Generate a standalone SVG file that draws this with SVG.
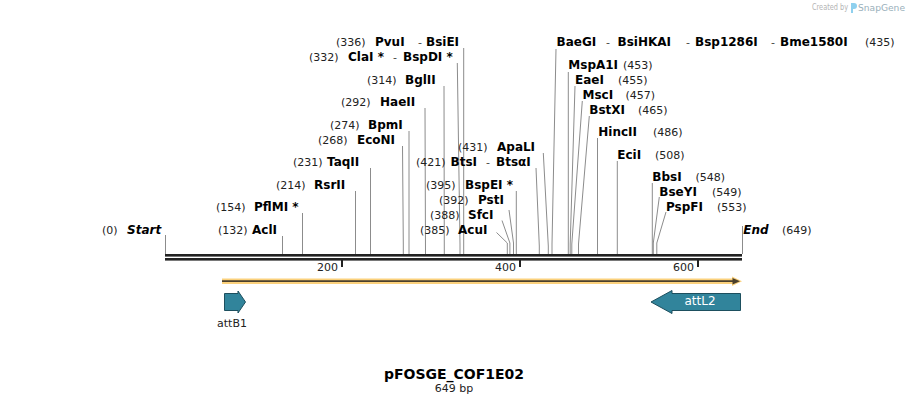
<svg xmlns="http://www.w3.org/2000/svg" width="909" height="404" viewBox="0 0 909 404">
<style>
text{font-family:"DejaVu Sans",Verdana,sans-serif;}
.n{font-size:11px;fill:#222;}
.e{font-size:12px;font-weight:bold;fill:#000;}
.i{font-size:12px;font-weight:bold;font-style:italic;fill:#000;}
.s{font-size:11px;fill:#444;}
.ld{fill:none;stroke:#8c8c8c;stroke-width:1;}
.tk{font-size:11px;fill:#222;}
.ft{fill:#31849b;stroke:#1d4f5e;stroke-width:1;}
</style>
<rect width="909" height="404" fill="#fff"/>
<g id="watermark">
<text x="812" y="10" textLength="36" lengthAdjust="spacingAndGlyphs" style="font-size:8px;fill:#b4b4b4">Created by</text>
<path d="M851,3 h3 a3,3 0 0 1 0,6 h-1 v4 h-2 z" fill="#8fd0ee"/>
<text x="858" y="11" textLength="47" lengthAdjust="spacingAndGlyphs" style="font-size:9.5px;fill:#9ab0bb">SnapGene</text>
</g>
<g id="connectors">
<polyline class="ld" points="165.5,235 165.5,254"/>
<polyline class="ld" points="282.5,236 282.5,254"/>
<polyline class="ld" points="302.5,213 302.5,254"/>
<polyline class="ld" points="355.5,191 355.5,254"/>
<polyline class="ld" points="370.5,168 370.5,254"/>
<polyline class="ld" points="402.5,146 403.3,244 403.3,254"/>
<polyline class="ld" points="409,131 409,254"/>
<polyline class="ld" points="425,108 425.5,254"/>
<polyline class="ld" points="444,86 444.3,254"/>
<polyline class="ld" points="457.3,63 460,244 460,254"/>
<polyline class="ld" points="463.7,48 463.7,254"/>
<polyline class="ld" points="496.5,232.5 507.3,243 507.3,254"/>
<polyline class="ld" points="502,220.5 509.9,243 509.9,254"/>
<polyline class="ld" points="509,210 513.5,243 513.5,254"/>
<polyline class="ld" points="516.3,191 516.3,254"/>
<polyline class="ld" points="536,168 539.3,246 539.3,254"/>
<polyline class="ld" points="543.3,153 548.3,246 548.3,254"/>
<polyline class="ld" points="556,49 552,244 552,254"/>
<polyline class="ld" points="568.3,72 568.3,254"/>
<polyline class="ld" points="575,86 570.2,244 570.2,254"/>
<polyline class="ld" points="582.3,101 571.8,244 571.8,254"/>
<polyline class="ld" points="589.3,116 578.5,244 578.5,254"/>
<polyline class="ld" points="597.5,138 597.5,254"/>
<polyline class="ld" points="617.3,161 617.3,254"/>
<polyline class="ld" points="652.3,183 652.3,254"/>
<polyline class="ld" points="659.3,197 653.3,243 653.3,254"/>
<polyline class="ld" points="666,212 656.8,243 656.8,254"/>
<polyline class="ld" points="742.5,226 742.5,254"/>
</g>
<g id="backbone">
<rect x="165" y="254" width="577" height="2.6" fill="#222"/>
<rect x="165" y="258" width="577" height="2.6" fill="#222"/>
<rect x="341" y="260" width="2" height="7" fill="#222"/>
<rect x="519" y="260" width="2" height="7" fill="#222"/>
<rect x="697" y="260" width="2" height="7" fill="#222"/>
<text class="tk" x="338" y="271" text-anchor="end">200</text>
<text class="tk" x="516" y="271" text-anchor="end">400</text>
<text class="tk" x="694" y="271" text-anchor="end">600</text>
</g>
<g id="orf">
<path d="M222,281.2 H735" stroke="#fbd17c" stroke-width="5.5" fill="none"/>
<path d="M742,281.2 L732,276.5 L732,286 Z" fill="#fbd17c"/>
<path d="M222,281.2 H734" stroke="#4a3f2c" stroke-width="1.8" fill="none"/>
<path d="M740,281.2 L732.5,278 L732.5,284.4 Z" fill="#4a3f2c"/>
</g>
<g id="attB1">
<path class="ft" d="M224.5,293.5 H238 V291 L245.5,302 L238,313 V310.5 H224.5 Z"/>
<text x="232" y="327" text-anchor="middle" style="font-size:11px;fill:#222">attB1</text>
</g>
<g id="attL2">
<path class="ft" d="M740.5,293.5 H672 V290.5 L651,302 L672,313.5 V310.5 H740.5 Z"/>
<text x="700" y="305" text-anchor="middle" style="font-size:12px;fill:#fff">attL2</text>
</g>
<g id="site-start"><text y="234"><tspan class="n" x="102">(0)</tspan><tspan class="i" x="127">Start</tspan></text></g>
<g id="site-AclI"><text y="234"><tspan class="n" x="218">(132)</tspan><tspan class="e" x="252">AclI</tspan></text></g>
<g id="site-PflMI"><text y="211"><tspan class="n" x="216">(154)</tspan><tspan class="e" x="254">PflMI *</tspan></text></g>
<g id="site-RsrII"><text y="189"><tspan class="n" x="276">(214)</tspan><tspan class="e" x="314">RsrII</tspan></text></g>
<g id="site-TaqII"><text y="166"><tspan class="n" x="293">(231)</tspan><tspan class="e" x="327">TaqII</tspan></text></g>
<g id="site-EcoNI"><text y="144"><tspan class="n" x="318">(268)</tspan><tspan class="e" x="357">EcoNI</tspan></text></g>
<g id="site-BpmI"><text y="129"><tspan class="n" x="330">(274)</tspan><tspan class="e" x="368">BpmI</tspan></text></g>
<g id="site-HaeII"><text y="106"><tspan class="n" x="341">(292)</tspan><tspan class="e" x="380">HaeII</tspan></text></g>
<g id="site-BglII"><text y="84"><tspan class="n" x="367">(314)</tspan><tspan class="e" x="405">BglII</tspan></text></g>
<g id="site-ClaI"><text y="61"><tspan class="n" x="309">(332)</tspan><tspan class="e" x="348">ClaI *</tspan><tspan class="s" x="393">-</tspan><tspan class="e" x="403">BspDI *</tspan></text></g>
<g id="site-PvuI"><text y="46"><tspan class="n" x="336">(336)</tspan><tspan class="e" x="375">PvuI</tspan><tspan class="s" x="418">-</tspan><tspan class="e" x="426">BsiEI</tspan></text></g>
<g id="site-AcuI"><text y="234"><tspan class="n" x="420">(385)</tspan><tspan class="e" x="458">AcuI</tspan></text></g>
<g id="site-SfcI"><text y="219"><tspan class="n" x="430">(388)</tspan><tspan class="e" x="468">SfcI</tspan></text></g>
<g id="site-PstI"><text y="204"><tspan class="n" x="439">(392)</tspan><tspan class="e" x="478">PstI</tspan></text></g>
<g id="site-BspEI"><text y="189"><tspan class="n" x="426">(395)</tspan><tspan class="e" x="465">BspEI *</tspan></text></g>
<g id="site-BtsI"><text y="166"><tspan class="n" x="416">(421)</tspan><tspan class="e" x="450.5">BtsI</tspan><tspan class="s" x="486">-</tspan><tspan class="e" x="496">BtsαI</tspan></text></g>
<g id="site-ApaLI"><text y="151"><tspan class="n" x="458">(431)</tspan><tspan class="e" x="497">ApaLI</tspan></text></g>
<g id="site-BaeGI"><text y="46"><tspan class="e" x="556.5">BaeGI</tspan><tspan class="s" x="606">-</tspan><tspan class="e" x="617.5">BsiHKAI</tspan><tspan class="s" x="686">-</tspan><tspan class="e" x="695">Bsp1286I</tspan><tspan class="s" x="771">-</tspan><tspan class="e" x="780">Bme1580I</tspan><tspan class="n" x="865">(435)</tspan></text></g>
<g id="site-MspA1I"><text y="69"><tspan class="e" x="568.3">MspA1I</tspan><tspan class="n" x="623">(453)</tspan></text></g>
<g id="site-EaeI"><text y="84"><tspan class="e" x="575">EaeI</tspan><tspan class="n" x="618">(455)</tspan></text></g>
<g id="site-MscI"><text y="99"><tspan class="e" x="582.5">MscI</tspan><tspan class="n" x="625.5">(457)</tspan></text></g>
<g id="site-BstXI"><text y="114"><tspan class="e" x="589.3">BstXI</tspan><tspan class="n" x="638">(465)</tspan></text></g>
<g id="site-HincII"><text y="136"><tspan class="e" x="598.3">HincII</tspan><tspan class="n" x="653">(486)</tspan></text></g>
<g id="site-EciI"><text y="159"><tspan class="e" x="617.3">EciI</tspan><tspan class="n" x="655">(508)</tspan></text></g>
<g id="site-BbsI"><text y="181"><tspan class="e" x="652.3">BbsI</tspan><tspan class="n" x="695.5">(548)</tspan></text></g>
<g id="site-BseYI"><text y="196"><tspan class="e" x="659.3">BseYI</tspan><tspan class="n" x="712">(549)</tspan></text></g>
<g id="site-PspFI"><text y="211"><tspan class="e" x="666">PspFI</tspan><tspan class="n" x="717">(553)</tspan></text></g>
<g id="site-end"><text y="234"><tspan class="i" x="743.3">End</tspan><tspan class="n" x="782">(649)</tspan></text></g>
<g id="title">
<text x="454" y="379" text-anchor="middle" style="font-size:14px;font-weight:bold;fill:#000">pFOSGE_COF1E02</text>
<text x="454" y="392" text-anchor="middle" style="font-size:11px;fill:#222">649 bp</text>
</g>
</svg>
